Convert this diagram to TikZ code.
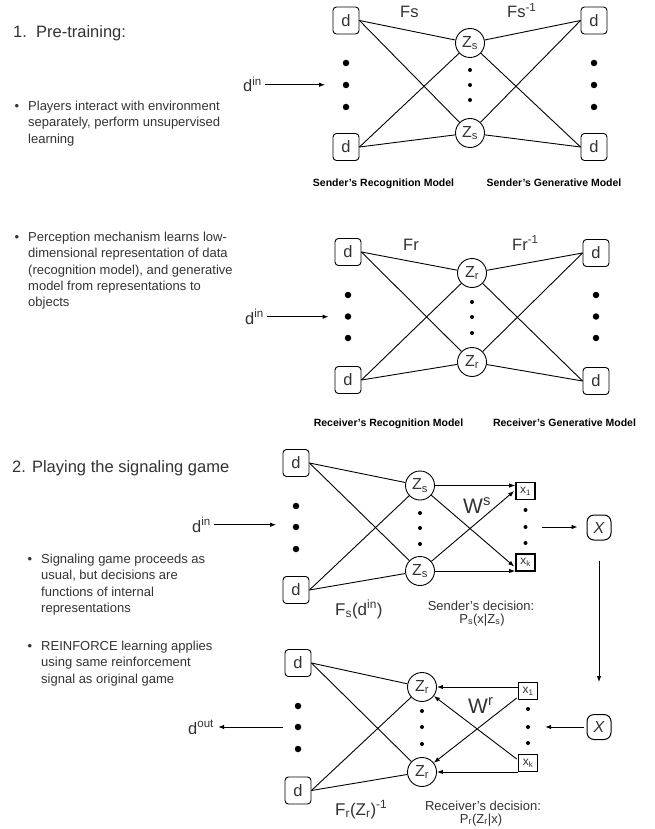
\documentclass[tikz,border=0pt]{standalone}
\usepackage{fontspec}
\setmainfont{Liberation Sans}
\usetikzlibrary{arrows.meta,calc}
\definecolor{txt}{HTML}{333333}
\begin{document}
\begin{tikzpicture}[x=1pt,y=-1pt,
 dbox/.style={draw, rounded corners=3.5pt, minimum width=26pt, minimum height=27pt, inner sep=0pt, line width=0.9pt, text=txt, font=\fontsize{16.5}{18}\selectfont},
 zc/.style={circle, draw, minimum size=29pt, inner sep=0pt, line width=0.9pt, text=txt, font=\fontsize{16}{18}\selectfont},
 xb/.style={draw, line width=1.6pt, minimum width=19pt, minimum height=17pt, inner sep=0pt, text=txt, font=\fontsize{12}{14}\selectfont},
 xn/.style={draw, rounded corners=7pt, line width=1pt, minimum width=24pt, minimum height=25pt, inner sep=0pt, text=txt, font=\fontsize{16}{18}\selectfont\itshape},
 bdot/.style={circle, fill, minimum size=6.5pt, inner sep=0pt},
 sdot/.style={circle, fill, minimum size=4pt, inner sep=0pt},
 conn/.style={line width=0.9pt},
 arr/.style={line width=0.9pt, -{Latex[length=6pt,width=4.5pt]}},
 lbl/.style={text=txt, inner sep=0pt, anchor=base west, font=\fontsize{16.5}{18}\selectfont},
 head/.style={text=txt, inner sep=0pt, anchor=base west, font=\fontsize{16.5}{18}\selectfont},
 body/.style={text=txt, inner sep=0pt, anchor=north west, align=left, font=\fontsize{13}{16.3}\selectfont},
 bul/.style={text=txt, inner sep=0pt, font=\fontsize{13}{16}\selectfont},
 capt/.style={inner sep=0pt, anchor=base, font=\fontsize{10.5}{12}\selectfont\bfseries},
 dec/.style={text=txt, inner sep=0pt, anchor=base, font=\fontsize{13}{15}\selectfont},
 wl/.style={text=txt, inner sep=0pt, anchor=base west, font=\fontsize{21}{24}\selectfont},
]
\useasboundingbox[fill=white] (0,0) rectangle (654,829);

% ---------- texts on the left ----------
\node[head] (h1) at (13,38) {1.\ \ Pre-training:};
\node[bul] (b1) at (17,107) {\textbullet};
\node[body] (t1) at (28,101) {Players interact with environment\\separately, perform unsupervised\\learning};
\node[bul] (b2) at (17,238) {\textbullet};
\node[body] (t2) at (28,232) {Perception mechanism learns low-\\dimensional representation of data\\(recognition model), and generative\\model from representations to\\objects};
\node[head] (h2) at (12,472) {2. Playing the signaling game};
\node[bul] (b3) at (30,560) {\textbullet};
\node[body] (t3) at (41,554) {Signaling game proceeds as\\usual, but decisions are\\functions of internal\\representations};
\node[bul] (b4) at (30,647) {\textbullet};
\node[body] (t4) at (41,641) {REINFORCE learning applies\\using same reinforcement\\signal as original game};

% ---------- section 1: sender ----------
\node[dbox] (a1) at (346,20.5) {d};
\node[dbox] (a2) at (346,147) {d};
\node[bdot] (a3) at (346,63) {};
\node[bdot] (a4) at (346,85) {};
\node[bdot] (a5) at (346,107) {};
\node[zc] (az1) at (470,43) {Z\textsubscript{s}};
\node[zc] (az2) at (470,133) {Z\textsubscript{s}};
\node[sdot] (az3) at (470,70) {};
\node[sdot] (az4) at (470,85) {};
\node[sdot] (az5) at (470,100) {};
\node[dbox] (ar1) at (594,20.5) {d};
\node[dbox] (ar2) at (594,147) {d};
\node[bdot] (ar3) at (594,63) {};
\node[bdot] (ar4) at (594,85) {};
\node[bdot] (ar5) at (594,107) {};
\node[lbl] (afs) at (400,18) {Fs};
\node[lbl] (afsi) at (507,18) {Fs\textsuperscript{-1}};
\node[capt] (acap1) at (383.5,186) {Sender’s Recognition Model};
\node[capt] (acap2) at (554,186) {Sender’s Generative Model};
\node[lbl] (adin) at (243,92) {d\textsuperscript{in}};
\draw[arr, shorten <=3pt, shorten >=17.5pt] (adin.east) -- (adin.east -| a4.west);
\foreach \l in {a1,a2}{\foreach \z in {az1,az2}{\draw[conn] (\l.east) -- (\z);}}
\foreach \r in {ar1,ar2}{\foreach \z in {az1,az2}{\draw[conn] (\z) -- (\r.west);}}

% ---------- section 2: receiver ----------
\node[dbox] (b1l) at (348,252) {d};
\node[dbox] (b2l) at (348,380) {d};
\node[bdot] (b3l) at (348,295) {};
\node[bdot] (b4l) at (348,316.5) {};
\node[bdot] (b5l) at (348,338) {};
\node[zc] (bz1) at (472,273) {Z\textsubscript{r}};
\node[zc] (bz2) at (472,362) {Z\textsubscript{r}};
\node[sdot] (bz3) at (472,302) {};
\node[sdot] (bz4) at (472,317) {};
\node[sdot] (bz5) at (472,333) {};
\node[dbox] (br1) at (596,253) {d};
\node[dbox] (br2) at (596,381) {d};
\node[bdot] (br3) at (596,295) {};
\node[bdot] (br4) at (596,316.5) {};
\node[bdot] (br5) at (596,338) {};
\node[lbl] (bfr) at (403,250) {Fr};
\node[lbl] (bfri) at (512,250) {Fr\textsuperscript{-1}};
\node[capt] (bcap1) at (388.5,426) {Receiver’s Recognition Model};
\node[capt] (bcap2) at (564.5,426) {Receiver’s Generative Model};
\node[lbl] (bdin) at (245,324) {d\textsuperscript{in}};
\draw[arr, shorten <=3pt, shorten >=16pt] (bdin.east) -- (bdin.east -| b4l.west);
\foreach \l in {b1l,b2l}{\foreach \z in {bz1,bz2}{\draw[conn] (\l.east) -- (\z);}}
\foreach \r in {br1,br2}{\foreach \z in {bz1,bz2}{\draw[conn] (\z) -- (\r.west);}}

% ---------- section 3: sender plays ----------
\node[dbox] (c1) at (296,463) {d};
\node[dbox] (c2) at (296,590) {d};
\node[bdot] (c3) at (296,506) {};
\node[bdot] (c4) at (296,527) {};
\node[bdot] (c5) at (296,549) {};
\node[zc] (cz1) at (420,485.5) {Z\textsubscript{s}};
\node[zc] (cz2) at (420,571) {Z\textsubscript{s}};
\node[sdot] (cz3) at (420,513) {};
\node[sdot] (cz4) at (420,528) {};
\node[sdot] (cz5) at (420,544) {};
\node[xb] (cx1) at (525.5,491) {x\textsubscript{1}};
\node[xb] (cxk) at (525.5,562.5) {x\textsubscript{k}};
\node[sdot] (cx3) at (525.5,510) {};
\node[sdot] (cx4) at (525.5,527) {};
\node[sdot] (cx5) at (525.5,543) {};
\node[xn] (cX) at (599,527.5) {X};
\node[wl] (cW) at (463,513) {W\textsuperscript{s}};
\node[lbl, font=\fontsize{17}{19}\selectfont] (cF) at (335,615) {F\textsubscript{s}(d\textsuperscript{in})};
\node[dec] (cd1) at (481,610) {Sender’s decision:};
\node[dec] (cd2) at (482,623) {P\textsubscript{s}(x|Z\textsubscript{s})};
\node[lbl] (cdin) at (192,532) {d\textsuperscript{in}};
\draw[arr, shorten <=3pt, shorten >=16.5pt] (cdin.east) -- (cdin.east -| c4.west);
\foreach \l in {c1,c2}{\foreach \z in {cz1,cz2}{\draw[conn] (\l.east) -- (\z);}}
\draw[arr] (cz1.east) -- (cz1.east -| cx1.west);
\draw[arr] (cz2.east) -- (cz2.east -| cxk.west);
\draw[arr] (cz1) -- ($(cxk.west)+(-1,4)$);
\draw[arr] (cz2) -- ($(cx1.west)+(-1,0)$);
\draw[arr, shorten <=14pt, shorten >=9pt] (cx4.east) -- (cx4.east -| cX.west);

% ---------- section 4: receiver plays ----------
\node[dbox] (e1) at (298,663) {d};
\node[dbox] (e2) at (298,790.5) {d};
\node[bdot] (e3) at (298,706) {};
\node[bdot] (e4) at (298,727) {};
\node[bdot] (e5) at (298,749) {};
\node[zc] (ez1) at (422,687) {Z\textsubscript{r}};
\node[zc] (ez2) at (422,772) {Z\textsubscript{r}};
\node[sdot] (ez3) at (422,711) {};
\node[sdot] (ez4) at (422,727) {};
\node[sdot] (ez5) at (422,744) {};
\node[xb] (ex1) at (528,691) {x\textsubscript{1}};
\node[xb] (exk) at (528,763) {x\textsubscript{k}};
\node[sdot] (ex3) at (528,709) {};
\node[sdot] (ex4) at (528,727) {};
\node[sdot] (ex5) at (528,743) {};
\node[xn] (eX) at (599,727) {X};
\node[wl] (eW) at (468,713) {W\textsuperscript{r}};
\node[lbl, font=\fontsize{17}{19}\selectfont] (eF) at (335,815) {F\textsubscript{r}(Z\textsubscript{r})\textsuperscript{-1}};
\node[dec] (ed1) at (483,810) {Receiver’s decision:};
\node[dec] (ed2) at (481,823) {P\textsubscript{r}(Z\textsubscript{r}|x)};
\node[lbl] (edout) at (188,734) {d\textsuperscript{out}};
\draw[arr, shorten <=11.5pt, shorten >=4pt] (e4.west) -- (e4.west -| edout.east);
\foreach \l in {e1,e2}{\foreach \z in {ez1,ez2}{\draw[conn] (\l.east) -- (\z);}}
\draw[arr] (ez1.east -| ex1.west) -- (ez1.east);
\draw[arr] (ez2.east -| exk.west) -- (ez2.east);
\draw[arr] ($(exk.west)+(-1,-4)$) -- (ez1);
\draw[arr] ($(ex1.west)+(-1,7)$) -- (ez2);
\draw[arr, shorten <=3pt, shorten >=15pt] (eX.west) -- (eX.west -| ex4.east);

% vertical connection
\draw[arr, shorten <=20pt, shorten >=32pt] (cX.south) -- (eX.north);
\end{tikzpicture}
\end{document}
